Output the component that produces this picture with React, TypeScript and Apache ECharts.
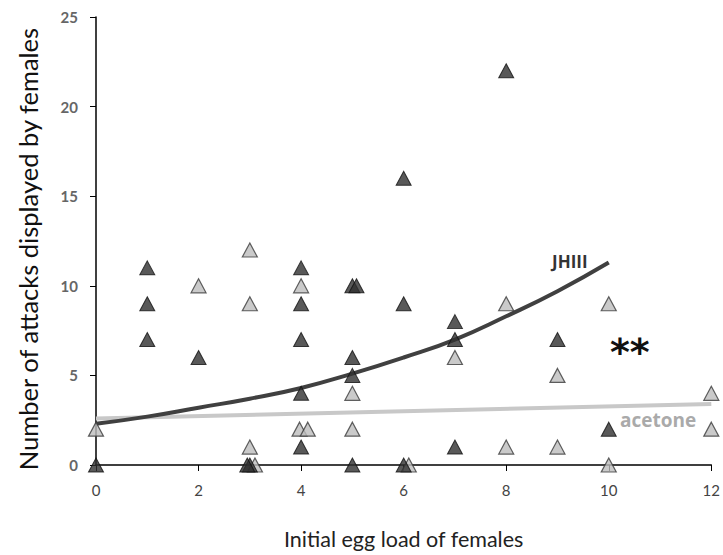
import React, { useEffect, useRef } from "react";
import * as echarts from "echarts";

const xTicks = [0, 2, 4, 6, 8, 10, 12];
const yTicks = [0, 5, 10, 15, 20, 25];

// JHIII-treated females (dark triangles): [egg load, attacks]
const jhPoints: [number, number][] = [
  [0, 0], [1, 11], [1, 9], [1, 7], [2, 6], [3, 0], [2.95, 0],
  [4, 11], [4, 9], [4, 7], [4, 4], [4, 1],
  [5, 10], [5.08, 10], [5, 6], [5, 5], [5, 0],
  [6, 16], [6, 9], [6, 0], [7, 8], [7, 7], [7, 1],
  [8, 22], [9, 7], [10, 2],
];

// acetone-treated females (light triangles)
const acetonePoints: [number, number][] = [
  [0, 2], [2, 10], [3, 12], [3, 9], [3, 1], [3.1, 0],
  [4, 10], [3.97, 2], [4.13, 2], [5, 4], [5, 2], [6.1, 0],
  [7, 6], [8, 9], [8, 1], [9, 5], [9, 1], [10, 9], [10, 0],
  [12, 4], [12, 2],
];

// fitted curves
const jhCurveX = [0, 1, 2, 3, 4, 5, 6, 7, 8, 9, 10];
const jhCurveY = [2.3, 2.7, 3.2, 3.7, 4.3, 5.1, 6.0, 7.0, 8.3, 9.7, 11.3];
const acetoneCurveX = [0, 12];
const acetoneCurveY = [2.6, 3.4];

export default function App() {
  const ref = useRef<HTMLDivElement>(null);
  useEffect(() => {
    if (!ref.current) return;
    const chart = echarts.init(ref.current, undefined, { renderer: "svg" });
    chart.setOption({
      animation: false,
      backgroundColor: "#fff",
      grid: { left: 96, right: 11, top: 17, bottom: 89 },
      xAxis: {
        type: "value",
        min: 0,
        max: 12,
        interval: 2,
        axisLine: { show: true, lineStyle: { color: "#000", width: 1.5 } },
        axisTick: { show: true, length: 6, lineStyle: { color: "#000" } },
        splitLine: { show: false },
        axisLabel: {
          color: "#444",
          fontSize: 15,
          fontFamily: "Lato, sans-serif",
          margin: 17,
          formatter: (v: number) => (xTicks.includes(v) ? String(v) : ""),
        },
        name: "Initial egg load of females",
        nameLocation: "middle",
        nameGap: 63,
        nameTextStyle: { color: "#222", fontSize: 21.5, fontFamily: "Lato, sans-serif" },
      },
      yAxis: {
        type: "value",
        min: 0,
        max: 25,
        interval: 5,
        axisLine: { show: true, lineStyle: { color: "#000", width: 1.5 } },
        axisTick: { show: true, length: 6, lineStyle: { color: "#000" } },
        splitLine: { show: false },
        axisLabel: {
          color: "#666",
          fontSize: 15,
          fontWeight: "bold",
          fontFamily: "Lato, sans-serif",
          margin: 18,
          formatter: (v: number) => (yTicks.includes(v) ? String(v) : ""),
        },
      },
      series: [
        {
          type: "line",
          data: acetoneCurveX.map((x, i) => [x, acetoneCurveY[i]]),
          showSymbol: false,
          lineStyle: { color: "#c8c8c8", width: 4 },
          z: 1,
        },
        {
          type: "line",
          data: jhCurveX.map((x, i) => [x, jhCurveY[i]]),
          smooth: true,
          showSymbol: false,
          lineStyle: { color: "#404040", width: 4 },
          z: 2,
        },
        {
          type: "scatter",
          data: acetonePoints,
          symbol: "triangle",
          symbolSize: [15, 14],
          itemStyle: { color: "#bdbdbd", borderColor: "#3a3a3a", borderWidth: 1.2 },
          z: 3,
        },
        {
          type: "scatter",
          data: jhPoints,
          symbol: "triangle",
          symbolSize: [15, 14],
          itemStyle: { color: "#2f2f2f", borderColor: "#111", borderWidth: 1 },
          z: 4,
        },
      ],
      graphic: [
        {
          type: "text",
          x: 28,
          y: 249,
          rotation: Math.PI / 2,
          style: {
            text: "Number of attacks displayed by females",
            fill: "#111",
            fontSize: 25.5,
            fontFamily: "Lato, sans-serif",
            align: "center",
            verticalAlign: "middle",
          },
        },
        {
          type: "text",
          left: 552,
          top: 253,
          style: { text: "JHIII", fill: "#333", fontSize: 17, fontWeight: "bold", fontFamily: "Open Sans, sans-serif" },
        },
        {
          type: "text",
          left: 620,
          top: 410,
          style: { text: "acetone", fill: "#aaa", fontSize: 19, fontWeight: "bold", fontFamily: "Open Sans, sans-serif" },
        },
        {
          type: "text",
          left: 610,
          top: 333,
          style: { text: "**", fill: "#111", fontSize: 38, fontWeight: "bold", fontFamily: "DejaVu Sans, sans-serif" },
        },
      ],
    });
    return () => chart.dispose();
  }, []);
  return (
    <div
      ref={ref}
      style={{ position: "absolute", left: 0, top: 0, width: 723, height: 555 }}
    />
  );
}
